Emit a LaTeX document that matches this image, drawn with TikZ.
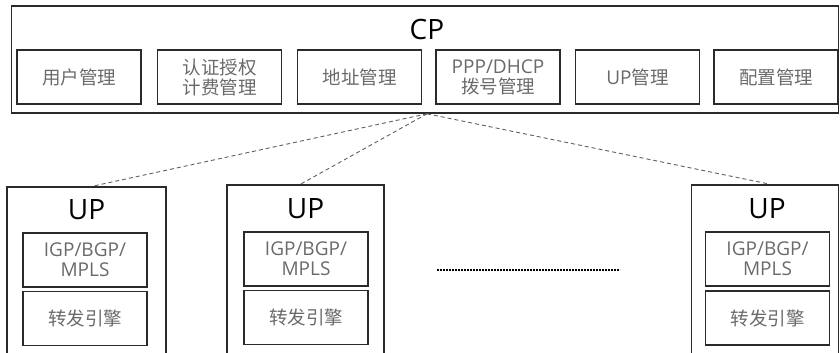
\documentclass[tikz,border=0pt]{standalone}
\usepackage{fontspec}
\setmainfont{Noto Sans CJK SC}
\newfontfamily\lat{Open Sans}
\usetikzlibrary{positioning}
\definecolor{boxline}{HTML}{2A2A2A}
\definecolor{txtgray}{HTML}{6A6A6A}
\definecolor{dashgray}{HTML}{606060}
\tikzset{
  outerbox/.style={draw=boxline, line width=1.6pt, inner sep=0pt},
  innerbox/.style={draw=boxline, line width=1.5pt, inner sep=0pt, align=center,
    text=txtgray, font=\fontsize{18.5}{20}\selectfont},
  cpbox/.style={innerbox, minimum width=124pt, minimum height=54pt},
  upinner/.style={innerbox, minimum width=124pt, minimum height=54pt},
  lattext/.style={font=\lat\fontsize{19}{20}\selectfont},
  titletext/.style={inner sep=0pt, text=black},
  link/.style={draw=dashgray, line width=0.9pt, dash pattern=on 4pt off 3pt},
  dotline/.style={draw=black, line width=2pt, dash pattern=on 1.6pt off 1.4pt}
}
\begin{document}
\begin{tikzpicture}[x=1pt,y=-1pt]
\useasboundingbox (0,0) rectangle (840,353);
\clip (0,0) rectangle (840,353);
% CP
\node[outerbox, minimum width=827pt, minimum height=107pt] (cp) at (425,59.5) {};
\node[titletext, font=\lat\fontsize{28}{30}\selectfont] (cpt) at (427,29) {CP};
\node[cpbox] (c1) at (79,77) {用户管理};
\node[cpbox] (c2) at (219.5,77) {认证授权\\计费管理};
\node[cpbox] (c3) at (359.5,77) {地址管理};
\node[cpbox] (c4) at (498,77) {{\lat\fontsize{19}{20}\selectfont PPP/DHCP}\\拨号管理};
\node[cpbox] (c5) at (637.5,77) {{\lat\fontsize{19}{20}\selectfont UP}管理};
\node[cpbox] (c6) at (776,77) {配置管理};
% UP A
\node[outerbox, minimum width=159pt, minimum height=180pt] (upa) at (86.5,277) {};
\node[titletext, font=\lat\fontsize{28}{30}\selectfont] (upat) at (86.5,210) {UP};
\node[upinner, lattext] (a1) at (85,260) {IGP/BGP/\\MPLS};
\node[upinner] (a2) at (85,318.5) {转发引擎};
% UP B
\node[outerbox, minimum width=157pt, minimum height=182pt] (upb) at (305.5,276) {};
\node[titletext, font=\lat\fontsize{28}{30}\selectfont] (upbt) at (305.5,209) {UP};
\node[upinner, lattext] (b1) at (306,259) {IGP/BGP/\\MPLS};
\node[upinner] (b2) at (306,317.5) {转发引擎};
% UP C
\node[outerbox, minimum width=147pt, minimum height=182pt] (upc) at (765,276) {};
\node[titletext, font=\lat\fontsize{28}{30}\selectfont] (upct) at (767,209) {UP};
\node[upinner, lattext] (c1b) at (767.5,259) {IGP/BGP/\\MPLS};
\node[upinner] (c2b) at (767.5,318) {转发引擎};
% dotted ellipsis
\coordinate (dl) at (437,270);
\coordinate (dr) at (620,270);
\draw[dotline] (dl) -- (dr);
% links
\coordinate (hub) at ([xshift=2pt]cp.south);
\draw[link] (hub) -- ([xshift=6pt]upa.north);
\draw[link] (hub) -- ([xshift=-5pt]upb.north);
\draw[link] (hub) -- ([xshift=5pt]upc.north);
\end{tikzpicture}
\end{document}
